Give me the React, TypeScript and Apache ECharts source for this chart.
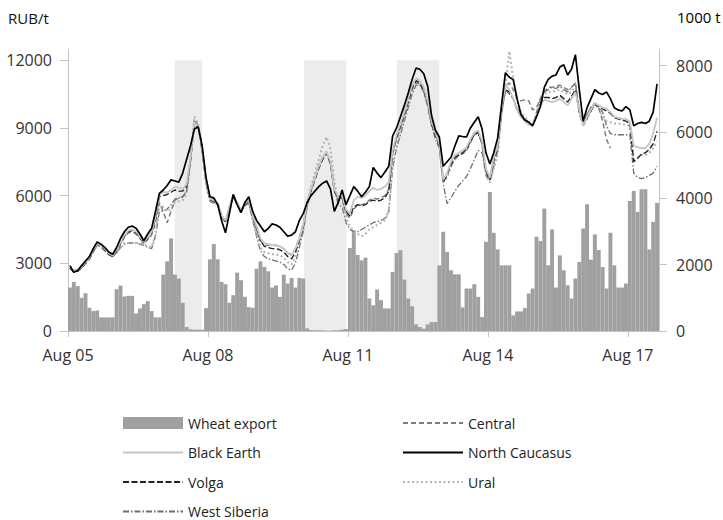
import React, { useEffect, useRef } from "react";
import * as echarts from "echarts";

// ---- data (monthly, Aug 2005 – Mar 2018) ----
const MONTH_COUNT = 152;
const months: string[] = [];
for (let i = 0; i < MONTH_COUNT; i++) {
  const m = (7 + i) % 12;
  const y = 2005 + Math.floor((7 + i) / 12);
  months.push(`${y}-${String(m + 1).padStart(2, "0")}`);
}

const xTickPositions = [0, 36, 72, 108, 144];
const xTickLabels = ["Aug 05", "Aug 08", "Aug 11", "Aug 14", "Aug 17"];
const leftTicks = [0, 3000, 6000, 9000, 12000];
const rightTicks = [0, 2000, 4000, 6000, 8000];

// shaded periods, in months from Aug 2005
const bands: [number, number][] = [
  [27.45, 34.5],
  [60.7, 71.6],
  [84.6, 95.5],
];

const wheatExport = [
  1310, 1480, 1350, 1000, 1140, 700, 600, 620, 410, 410, 410, 410,
  1260, 1370, 1040, 1060, 1060, 525, 680, 810, 900, 600, 410, 410,
  1700, 2100, 2790, 1700, 1580, 850, 120, 50, 40, 40, 40, 690,
  2160, 2620, 2160, 1480, 1410, 850, 1080, 1760, 1530, 1030, 720, 700,
  1880, 2100, 1930, 1800, 1310, 1370, 1030, 1700, 1430, 1600, 1310, 1600,
  1580, 80, 30, 20, 20, 20, 10, 10, 20, 20, 40, 60,
  2500, 3040, 2290, 2130, 2210, 980, 775, 1250, 930, 680, 680, 1780,
  2350, 2435, 1550, 980, 745, 200, 120, 70, 200, 270, 270, 1980,
  2990, 2380, 1830, 1710, 1710, 710, 1280, 1280, 1410, 1030, 420, 2690,
  4190, 2960, 2460, 1980, 1980, 1980, 470, 590, 590, 690, 1130, 1280,
  2840, 2710, 3690, 1980, 3060, 1310, 2280, 1830, 1380, 980, 1580, 2080,
  3090, 3820, 2150, 2910, 2440, 1930, 1280, 2960, 1980, 1310, 1310, 1430,
  3920, 4220, 3590, 4270, 4270, 2460, 3290, 3860,
];

const northCaucasus = [
  2900, 2600, 2680, 2900, 3100, 3300, 3650, 3950, 3850, 3700, 3500, 3400,
  3700, 4100, 4400, 4600, 4650, 4550, 4300, 4000, 4300, 4550, 5300, 6100,
  6250, 6450, 6700, 6650, 6600, 7000, 7600, 8200, 8950, 9050, 8200, 6800,
  5950, 5900, 5600, 4900, 4350, 5200, 6050, 5600, 5250, 5700, 5950, 5300,
  4900, 4650, 4400, 4550, 4750, 4700, 4600, 4400, 4200, 4250, 4400, 4900,
  5200, 5700, 6000, 6200, 6400, 6550, 6650, 6300, 5300, 5700, 6250, 5600,
  6000, 6400, 6200, 5950, 6150, 6400, 7250, 7000, 6800, 7050, 7300, 8650,
  9000, 9500, 10000, 10550, 11150, 11650, 11600, 11400, 10850, 9550, 8900, 8600,
  7300, 7500, 7700, 8200, 8650, 8620, 8600, 9000, 9250, 9500, 8950, 7900,
  7400, 7900, 8550, 10000, 11450, 11250, 11150, 10300, 9600, 9350, 9250, 9100,
  9500, 9950, 10800, 11150, 11300, 11350, 11700, 11800, 11350, 11600, 12250, 10700,
  9300, 9900, 10300, 10700, 10550, 10480, 10600, 10300, 9900, 9800, 9750, 9950,
  9800, 9100, 9200, 9250, 9200, 9300, 9700, 10950,
];

const blackEarth = [
  2850, 2650, 2700, 2850, 3050, 3250, 3600, 3900, 3800, 3650, 3450, 3350,
  3600, 3950, 4250, 4450, 4500, 4400, 4200, 3950, 4150, 4400, 5100, 6050,
  6150, 6150, 6250, 6400, 6350, 6300, 6500, 7700, 9250, 9050, 8100, 6700,
  5850, 5800, 5650, 5100, 4900, 5500, 6000, 5700, 5350, 5650, 5800, 5100,
  4650, 4100, 3900, 3850, 3800, 3800, 3750, 3650, 3450, 3350, 3650, 4100,
  4700, 5700, 6300, 6800, 7300, 7700, 7950, 7500, 6300, 5950, 6000, 5400,
  5200, 5800, 5950, 5900, 6000, 6200, 6350, 6250, 6300, 6400, 6600, 8000,
  8700, 9200, 9700, 10300, 10900, 11200, 11100, 10800, 10200, 9300, 8800, 8300,
  6700, 7000, 7500, 7800, 7900, 8000, 8150, 8500, 8800, 8900, 8400, 7200,
  6800, 7700, 8200, 9800, 10900, 10700, 10300, 9800, 9500, 9300, 9150, 9100,
  9500, 10000, 10250, 10200, 10150, 10200, 10300, 10150, 10000, 10300, 10600, 9800,
  9100, 9500, 9800, 10100, 10000, 9900, 9850, 9700, 9500, 9450, 9400, 9400,
  9300, 8200, 8150, 8100, 8100, 8300, 8750, 9450,
];

const volga = [
  2800, 2600, 2650, 2800, 3000, 3200, 3550, 3900, 3800, 3600, 3400, 3300,
  3550, 3900, 4200, 4400, 4450, 4350, 4150, 3900, 4100, 4350, 5000, 5950,
  6000, 6050, 6150, 6250, 6200, 6200, 6400, 7600, 9200, 9000, 8000, 6600,
  5800, 5750, 5600, 5050, 4850, 5450, 5950, 5650, 5300, 5600, 5750, 5050,
  4550, 4000, 3750, 3700, 3650, 3650, 3600, 3500, 3300, 3200, 3500, 4000,
  4600, 5600, 6200, 6700, 7200, 7600, 7900, 7400, 6200, 5900, 5900, 5300,
  5100, 5500, 5600, 5550, 5600, 5750, 5800, 5750, 5800, 5900, 6200, 7900,
  8600, 9100, 9600, 10200, 10800, 11100, 11000, 10700, 10100, 9200, 8700, 8200,
  6600, 6900, 7400, 7700, 7800, 7900, 8050, 8400, 8700, 8800, 8300, 7100,
  6700, 7600, 8100, 9700, 10700, 10600, 10300, 9800, 9500, 9300, 9150, 9100,
  9550, 10050, 10350, 10350, 10300, 10350, 10450, 10300, 10150, 10400, 10700, 9700,
  9100, 9450, 9750, 10050, 9950, 9850, 9750, 9650, 9450, 9400, 9350, 9300,
  9200, 7500, 7650, 7850, 7900, 8050, 8300, 8850,
];

const central: (number | null)[] = [
  2800, 2650, 2700, 2850, 3050, 3250, 3550, 3850, 3750, 3600, 3400, 3300,
  3500, 3850, 4150, 4350, 4400, 4300, 4100, 3900, 4050, 4250, 4800, 5700,
  5300, 4800, 5300, 5800, 5900, 5950, 6200, 7500, 9300, 9100, 8200, 6800,
  5900, 5800, 5700, 5150, 4850, 5500, 6050, 5700, 5350, 5650, 5800, 5050,
  4500, 4000, 3800, 3800, 3800, 3800, 3750, 3650, 3450, 3400, 3650, 4150,
  4750, 5700, 6300, 6800, 7300, 7700, 7900, 7450, 6200, 5800, 5900, 5200,
  5000, 5400, 5600, 5600, 5650, 5800, 5900, 5850, 5900, 6000, 6300, 7900,
  8500, 9000, 9500, 10100, 10700, 11000, 10950, 10600, 10000, 9200, 8700, 8300,
  6700, 7000, 7300, 7600, 7800, 7850, 8000, 8350, 8700, 8800, 8300, 7000,
  6700, 7500, 8200, 9900, 10800, 11000, 10700, 10300, 10200, 10250, 10200, 9800,
  9900, 10300, 10600, 10800, 10800, 10850, 10900, 10800, 10700, 10800, 11000, 9800,
  9150, 9600, 9900, 10100, 9900, 9300, 8500, 8100, null, null, null, null,
  null, null, null, null, null, null, null, null,
];

const ural = [
  2800, 2700, 2700, 2800, 3000, 3200, 3500, 3800, 3750, 3550, 3400, 3300,
  3500, 3750, 3900, 3900, 3900, 3900, 3900, 3850, 3750, 3700, 4300, 5600,
  5500, 5300, 5400, 5700, 5750, 5800, 6100, 7500, 9500, 9200, 8000, 6500,
  5800, 5700, 5650, 5100, 4900, 5500, 6000, 5650, 5300, 5600, 5700, 4950,
  4300, 3700, 3500, 3450, 3400, 3400, 3350, 3250, 3050, 2950, 3250, 3900,
  4500, 5700, 6400, 7000, 7600, 8200, 8600, 8100, 6600, 5800, 5700, 5000,
  4650, 4400, 4300, 4200, 4300, 4500, 4600, 4700, 4800, 4900, 5300, 7400,
  8300, 8900, 9500, 10100, 10800, 11200, 11100, 10800, 10200, 9300, 8700, 8300,
  6600, 6800, 7300, 7700, 7800, 7900, 8050, 8450, 8750, 8850, 8300, 6900,
  6600, 7200, 7800, 9600, 10900, 12400, 11200, 10200, 9700, 9500, 9300, 9100,
  9600, 10200, 10500, 10600, 10600, 10650, 10700, 10600, 10500, 10600, 10900, 9700,
  9100, 9400, 9800, 10000, 9900, 9500, 9300, 9250, 9200, 9200, 9150, 9150,
  9100, 7600, 7700, 7800, 7800, 7900, 8100, 8400,
];

const westSiberia = [
  2750, 2650, 2650, 2800, 3000, 3200, 3500, 3800, 3700, 3550, 3400, 3300,
  3450, 3700, 3850, 3900, 3900, 3900, 3850, 3800, 3700, 3650, 4200, 5300,
  5300, 5400, 5600, 5850, 5900, 5950, 6200, 7600, 9350, 9100, 8000, 6600,
  5750, 5650, 5600, 5000, 4850, 5400, 5950, 5600, 5250, 5550, 5650, 4900,
  4200, 3550, 3300, 3200, 3150, 3100, 3050, 2950, 2750, 2700, 3000, 3700,
  4400, 5500, 6200, 6800, 7300, 7700, 7950, 7500, 6300, 5600, 5500, 4800,
  4500, 4400, 4400, 4500, 4600, 4700, 4800, 4850, 4900, 5000, 5300, 7200,
  8100, 8700, 9300, 9900, 10500, 10900, 10900, 10600, 10000, 9100, 8500, 8100,
  6500, 5650, 5900, 6200, 6450, 6650, 6850, 7200, 7600, 8000, 7900, 6900,
  6600, 7300, 8000, 9600, 10700, 10500, 10300, 9900, 9600, 9400, 9250, 9100,
  9700, 10300, 10600, 10700, 10800, 10750, 10850, 10700, 10600, 10800, 11000, 9800,
  9150, 9600, 9900, 10100, 9950, 9700, 9100, 8750, 8700, 8700, 8700, 8700,
  8700, 7000, 6800, 6750, 6800, 6900, 7000, 7300,
];

const FONT = "'Open Sans', 'Noto Sans', sans-serif";

export default function App() {
  const ref = useRef<HTMLDivElement>(null);

  useEffect(() => {
    document.body.style.margin = "0";
    if (!ref.current) return;
    const chart = echarts.init(ref.current, null, { renderer: "svg" });

    const axisLineStyle = { color: "#c4c4c4", width: 1 };
    const noSymbol = { opacity: 0 };

    const lineSeries = (
      name: string,
      data: (number | null)[],
      color: string,
      width: number,
      type: any,
      z: number
    ) => ({
      name,
      type: "line",
      xAxisIndex: 1,
      yAxisIndex: 0,
      data,
      symbol: "none",
      showSymbol: false,
      connectNulls: false,
      z,
      lineStyle: { color, width, type },
      itemStyle: { color },
    });

    const legendBase = {
      orient: "vertical",
      top: 411,
      height: 130,
      itemWidth: 60,
      itemHeight: 12,
      itemGap: 15.5,
      textStyle: { fontSize: 14, color: "#222", fontFamily: FONT },
    };

    const option: any = {
      animation: false,
      textStyle: { fontFamily: FONT },
      grid: { left: 68, right: 64, top: 49, bottom: 189, containLabel: false },
      xAxis: [
        {
          type: "value",
          min: 0,
          max: MONTH_COUNT,
          position: "bottom",
          axisLine: { show: true, onZero: false, lineStyle: axisLineStyle },
          axisTick: {
            show: true,
            length: 6,
            customValues: xTickPositions,
            lineStyle: axisLineStyle,
          },
          axisLabel: {
            customValues: xTickPositions,
            formatter: (v: number) => xTickLabels[xTickPositions.indexOf(v)] ?? "",
            fontSize: 16,
            color: "#333",
            fontFamily: FONT,
            margin: 16,
          },
          splitLine: { show: false },
        },
        {
          type: "category",
          data: months,
          boundaryGap: true,
          position: "bottom",
          show: false,
        },
      ],
      yAxis: [
        {
          type: "value",
          min: 0,
          max: 12500,
          position: "left",
          axisLine: { show: true, lineStyle: axisLineStyle },
          axisTick: {
            show: true,
            length: 8,
            customValues: leftTicks,
            lineStyle: axisLineStyle,
          },
          axisLabel: {
            customValues: leftTicks,
            formatter: (v: number) => String(v),
            fontSize: 16,
            color: "#333",
            fontFamily: FONT,
            margin: 16,
          },
          splitLine: { show: false },
        },
        {
          type: "value",
          min: 0,
          max: 8500,
          position: "right",
          axisLine: { show: true, lineStyle: axisLineStyle },
          axisTick: {
            show: true,
            length: 8,
            customValues: rightTicks,
            lineStyle: axisLineStyle,
          },
          axisLabel: {
            customValues: rightTicks,
            formatter: (v: number) => String(v),
            fontSize: 16,
            color: "#333",
            fontFamily: FONT,
            margin: 17,
          },
          splitLine: { show: false },
        },
      ],
      legend: [
        {
          ...legendBase,
          left: 117,
          data: [
            { name: "Wheat export", icon: "rect" },
            { name: "Black Earth", itemStyle: noSymbol },
            { name: "Volga", itemStyle: noSymbol },
            { name: "West Siberia", itemStyle: noSymbol },
          ],
        },
        {
          ...legendBase,
          left: 397,
          data: [
            { name: "Central", itemStyle: noSymbol },
            { name: "North Caucasus", itemStyle: noSymbol },
            { name: "Ural", itemStyle: noSymbol },
          ],
        },
      ],
      graphic: [
        {
          type: "text",
          left: 8,
          top: 10,
          style: { text: "RUB/t", fontSize: 15, fill: "#111", fontFamily: FONT },
        },
        {
          type: "text",
          left: 677,
          top: 9,
          style: { text: "1000 t", fontSize: 15, fill: "#000", fontFamily: FONT },
        },
      ],
      series: [
        {
          name: "periods",
          type: "line",
          xAxisIndex: 0,
          yAxisIndex: 0,
          data: [],
          z: 1,
          silent: true,
          markArea: {
            silent: true,
            itemStyle: { color: "#ececec" },
            data: bands.map(([a, b]) => [
              { xAxis: a, yAxis: 0 },
              { xAxis: b, yAxis: 12000 },
            ]),
          },
        },
        {
          name: "Wheat export",
          type: "bar",
          xAxisIndex: 1,
          yAxisIndex: 1,
          data: wheatExport,
          barWidth: "101%",
          barCategoryGap: "0%",
          itemStyle: { color: "#a0a0a0" },
          z: 2,
        },
        lineSeries("West Siberia", westSiberia, "#6f6f6f", 1.3, [6, 2, 1.5, 2], 3),
        lineSeries("Ural", ural, "#b3b3b3", 2, [2, 2.5], 3),
        lineSeries("Central", central, "#7d7d7d", 1.5, [5, 3], 3),
        lineSeries("Volga", volga, "#222222", 1.4, [6, 2.5], 4),
        lineSeries("Black Earth", blackEarth, "#c6c6c6", 1.8, "solid", 4),
        lineSeries("North Caucasus", northCaucasus, "#000000", 1.7, "solid", 5),
      ],
    };

    chart.setOption(option);
    return () => chart.dispose();
  }, []);

  return <div ref={ref} style={{ width: 723, height: 520 }} />;
}
